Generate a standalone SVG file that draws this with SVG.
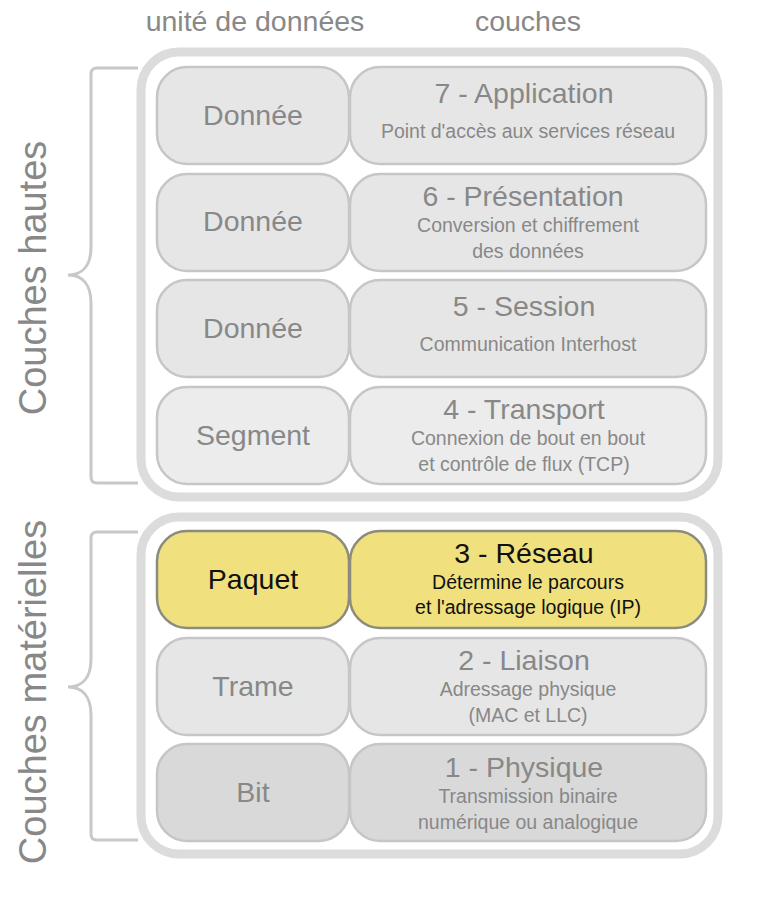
<svg xmlns="http://www.w3.org/2000/svg" width="768" height="904" viewBox="0 0 768 904">
<style>
text{font-family:"Liberation Sans",Arial,sans-serif;text-anchor:middle;fill:#888}
.hd{font-size:28.5px}
.side{font-size:38px}
.unit{font-size:28.5px}
.title{font-size:28.5px}
.sub{font-size:19.5px}
.box{stroke:#c6c6c6;stroke-width:2.5}
.g1{fill:#e6e6e6}
.g2{fill:#ececec}
.g3{fill:#d9d9d9}
.y{fill:#f0e07e;stroke:#8c8c7c;stroke-width:2.5}
.dark{fill:#111}
.cont{fill:#fff;stroke:#dcdcdc;stroke-width:9}
.br{fill:none;stroke:#c8c8c8;stroke-width:3}
</style>
<rect width="768" height="904" fill="#fff"/>
<g id="headers">
<text class="hd" x="255" y="31">unité de données</text>
<text class="hd" x="528" y="31">couches</text>
</g>
<g id="side-labels">
<text class="side" transform="translate(46,278) rotate(-90)">Couches hautes</text>
<text class="side" transform="translate(46,692) rotate(-90)">Couches matérielles</text>
</g>
<g id="brackets">
<path class="br" d="M138,68 L97,68 Q91,68 91,74 L91,247 C91,266 82,275 68,275 C82,275 91,284 91,303 L91,477 Q91,483 97,483 L138,483"/>
<path class="br" d="M138,532 L97,532 Q91,532 91,538 L91,659 C91,678 82,687 68,687 C82,687 91,696 91,715 L91,834 Q91,840 97,840 L138,840"/>
</g>
<g id="upper-container"><rect class="cont" x="141" y="52" width="577" height="445" rx="38"/></g>
<g id="lower-container"><rect class="cont" x="141" y="517" width="577" height="337" rx="38"/></g>
<g id="row7">
<rect class="box g1" x="157" y="67" width="192" height="97" rx="30"/>
<rect class="box g1" x="350" y="67" width="356" height="97" rx="30"/>
<text class="unit" x="253" y="125">Donnée</text>
<text class="title" x="524" y="103">7 - Application</text>
<text class="sub" x="528" y="138">Point d'accès aux services réseau</text>
</g>
<g id="row6">
<rect class="box g1" x="157" y="174" width="192" height="97" rx="30"/>
<rect class="box g1" x="350" y="174" width="356" height="97" rx="30"/>
<text class="unit" x="253" y="231">Donnée</text>
<text class="title" x="523" y="206">6 - Présentation</text>
<text class="sub" x="528" y="232">Conversion et chiffrement</text>
<text class="sub" x="528" y="258">des données</text>
</g>
<g id="row5">
<rect class="box g1" x="157" y="280" width="192" height="97" rx="30"/>
<rect class="box g1" x="350" y="280" width="356" height="97" rx="30"/>
<text class="unit" x="253" y="338">Donnée</text>
<text class="title" x="524" y="316">5 - Session</text>
<text class="sub" x="528" y="351">Communication Interhost</text>
</g>
<g id="row4">
<rect class="box g2" x="157" y="387" width="192" height="97" rx="30"/>
<rect class="box g2" x="350" y="387" width="356" height="97" rx="30"/>
<text class="unit" x="253" y="445">Segment</text>
<text class="title" x="524" y="419">4 - Transport</text>
<text class="sub" x="528" y="445">Connexion de bout en bout</text>
<text class="sub" x="524" y="471">et contrôle de flux (TCP)</text>
</g>
<g id="row3">
<rect class="y" x="157" y="531" width="192" height="97" rx="30"/>
<rect class="y" x="350" y="531" width="356" height="97" rx="30"/>
<text class="unit dark" x="253" y="589">Paquet</text>
<text class="title dark" x="524" y="563">3 - Réseau</text>
<text class="sub dark" x="528" y="589">Détermine le parcours</text>
<text class="sub dark" x="528" y="614">et l'adressage logique (IP)</text>
</g>
<g id="row2">
<rect class="box g1" x="157" y="638" width="192" height="97" rx="30"/>
<rect class="box g1" x="350" y="638" width="356" height="97" rx="30"/>
<text class="unit" x="253" y="696">Trame</text>
<text class="title" x="524" y="670">2 - Liaison</text>
<text class="sub" x="528" y="696">Adressage physique</text>
<text class="sub" x="528" y="722">(MAC et LLC)</text>
</g>
<g id="row1">
<rect class="box g3" x="157" y="744" width="192" height="97" rx="30"/>
<rect class="box g3" x="350" y="744" width="356" height="97" rx="30"/>
<text class="unit" x="253" y="802">Bit</text>
<text class="title" x="524" y="777">1 - Physique</text>
<text class="sub" x="528" y="803">Transmission binaire</text>
<text class="sub" x="528" y="829">numérique ou analogique</text>
</g>
</svg>
